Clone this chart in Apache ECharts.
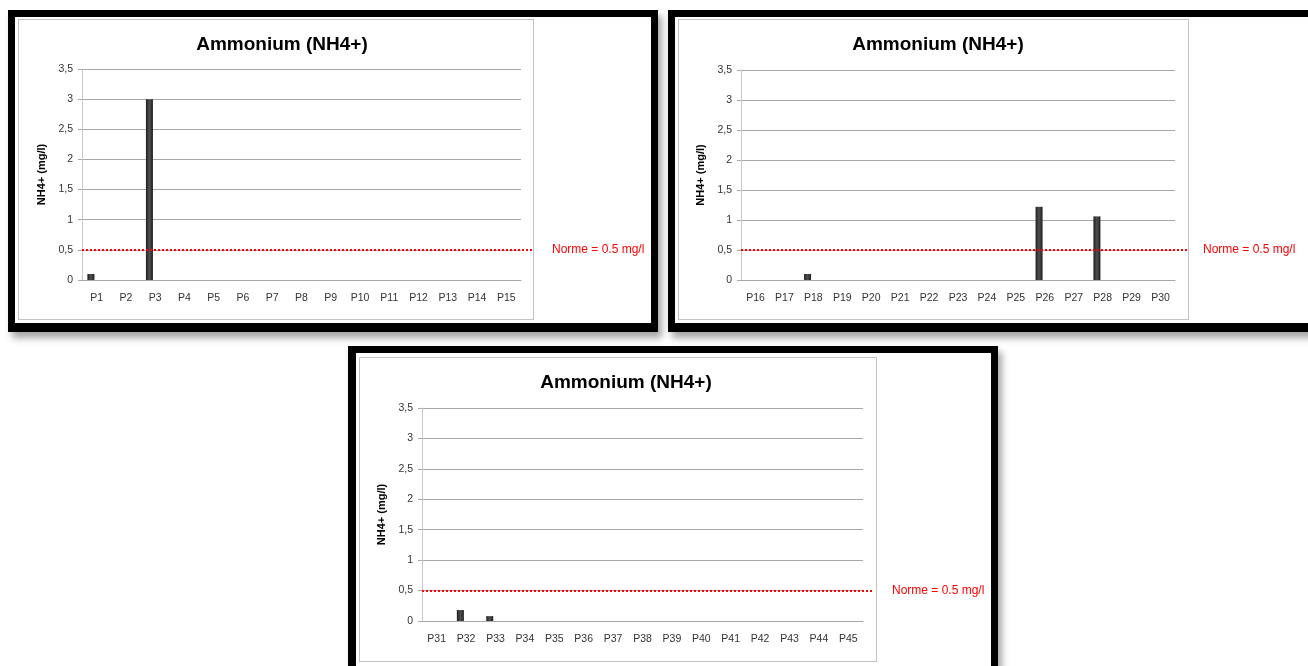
<!DOCTYPE html>
<html>
<head>
<meta charset="utf-8">
<script src="https://cdn.jsdelivr.net/npm/echarts@6/dist/echarts.min.js"></script>
<style>
  html, body { margin:0; padding:0; width:1308px; height:666px; overflow:hidden; background:#fff; }
  .frame { position:absolute; box-sizing:border-box; border:solid #000; background:#fff;
           box-shadow: 4px 6px 7px rgba(0,0,0,0.35); }
  .box { position:absolute; box-sizing:border-box; border:1px solid #c4c4c4; }
  .chart { position:absolute; }
</style>
</head>
<body>
<div class="frame" style="left:8px;top:10px;width:650px;height:322px;border-width:7px 7px 9px 7px;"></div>
<div class="frame" style="left:668px;top:10px;width:660px;height:322px;border-width:7px 7px 9px 7px;"></div>
<div class="frame" style="left:348px;top:346px;width:650px;height:330px;border-width:7px 7px 9px 8px;"></div>

<div class="box" style="left:18px;top:19px;width:516px;height:301px;"></div>
<div class="box" style="left:678px;top:19px;width:511px;height:301px;"></div>
<div class="box" style="left:359px;top:357px;width:518px;height:305px;"></div>

<div id="c1" class="chart" style="left:15px;top:17px;width:636px;height:306px;"></div>
<div id="c2" class="chart" style="left:675px;top:17px;width:633px;height:306px;"></div>
<div id="c3" class="chart" style="left:356px;top:353px;width:634px;height:311px;"></div>

<script>
// ---- data ----
const chartTitle = 'Ammonium (NH4+)';
const yAxisName = 'NH4+ (mg/l)';
const yMin = 0, yMax = 3.5, yStep = 0.5;
const normeValue = 0.5;
const normeLabel = 'Norme = 0.5 mg/l';

const cats1 = ['P1','P2','P3','P4','P5','P6','P7','P8','P9','P10','P11','P12','P13','P14','P15'];
const vals1 = [0.1, 0, 3.0, 0, 0, 0, 0, 0, 0, 0, 0, 0, 0, 0, 0];

const cats2 = ['P16','P17','P18','P19','P20','P21','P22','P23','P24','P25','P26','P27','P28','P29','P30'];
const vals2 = [0, 0, 0.1, 0, 0, 0, 0, 0, 0, 0, 1.22, 0, 1.06, 0, 0];

const cats3 = ['P31','P32','P33','P34','P35','P36','P37','P38','P39','P40','P41','P42','P43','P44','P45'];
const vals3 = [0, 0.18, 0.08, 0, 0, 0, 0, 0, 0, 0, 0, 0, 0, 0, 0];

// ---- layout per panel ----
const panels = [
  { id:'c1', cats:cats1, vals:vals1, titleX:262, titleTop:13, gl:67, gt:52, gw:439, gh:211, lw:452, ld:18 },
  { id:'c2', cats:cats2, vals:vals2, titleX:258, titleTop:13, gl:66, gt:53, gw:434, gh:210, lw:446, ld:16 },
  { id:'c3', cats:cats3, vals:vals3, titleX:265, titleTop:15, gl:66, gt:55, gw:441, gh:213, lw:451, ld:19 }
];

const FONT = '"Liberation Sans", Arial, sans-serif';
const barColor = new echarts.graphic.LinearGradient(0, 0, 1, 0, [
  { offset: 0, color: '#1e1e1e' },
  { offset: 0.5, color: '#505050' },
  { offset: 1, color: '#1e1e1e' }
]);

panels.forEach(p => {
  const chart = echarts.init(document.getElementById(p.id), null, { renderer: 'canvas' });
  const yBase = {
    type: 'value', min: yMin, max: yMax, interval: yStep
  };
  chart.setOption({
    animation: false,
    textStyle: { fontFamily: FONT },
    title: {
      text: chartTitle, left: p.titleX, top: p.titleTop, textAlign: 'center',
      textStyle: { fontFamily: FONT, fontSize: 19, fontWeight: 'bold', color: '#000' }
    },
    grid: [
      { left: p.gl, top: p.gt, width: p.gw, height: p.gh },
      { left: p.gl, top: p.gt, width: p.lw, height: p.gh }
    ],
    xAxis: [
      {
        gridIndex: 0, type: 'category', data: p.cats,
        axisLine: { lineStyle: { color: '#a9a9a9', width: 1 } },
        axisTick: { show: false },
        axisLabel: { color: '#333', fontSize: 10.5, margin: 13, interval: 0, fontFamily: FONT }
      },
      { gridIndex: 1, type: 'category', data: p.cats, show: false }
    ],
    yAxis: [
      Object.assign({}, yBase, {
        gridIndex: 0,
        name: yAxisName, nameLocation: 'middle', nameGap: 34, nameRotate: 90,
        nameTextStyle: { fontFamily: FONT, fontSize: 11, fontWeight: 'bold', color: '#000' },
        axisLine: { show: true, lineStyle: { color: '#c8c8c8', width: 1 } },
        axisTick: { show: true, length: 4, lineStyle: { color: '#a9a9a9' } },
        splitLine: { lineStyle: { color: '#a9a9a9', width: 1 } },
        axisLabel: {
          color: '#333', fontSize: 10.5, margin: 9, fontFamily: FONT,
          formatter: v => String(v).replace('.', ',')
        }
      }),
      Object.assign({}, yBase, { gridIndex: 1, show: false, splitLine: { show: false } })
    ],
    series: [
      {
        type: 'bar', xAxisIndex: 0, yAxisIndex: 0, data: p.vals,
        barWidth: 7, barGap: '64%',
        itemStyle: { color: barColor }
      },
      {
        type: 'bar', xAxisIndex: 0, yAxisIndex: 0, data: p.vals.map(() => '-'),
        barWidth: 7
      },
      {
        type: 'line', xAxisIndex: 1, yAxisIndex: 1, data: [],
        markLine: {
          silent: true, symbol: 'none',
          lineStyle: { color: '#ff0000', type: [2, 2], width: 2 },
          label: {
            show: true, position: 'end', distance: p.ld, formatter: normeLabel,
            color: '#ff0000', fontSize: 12, fontFamily: FONT
          },
          data: [{ yAxis: normeValue }]
        }
      }
    ]
  });
});
</script>
</body>
</html>
